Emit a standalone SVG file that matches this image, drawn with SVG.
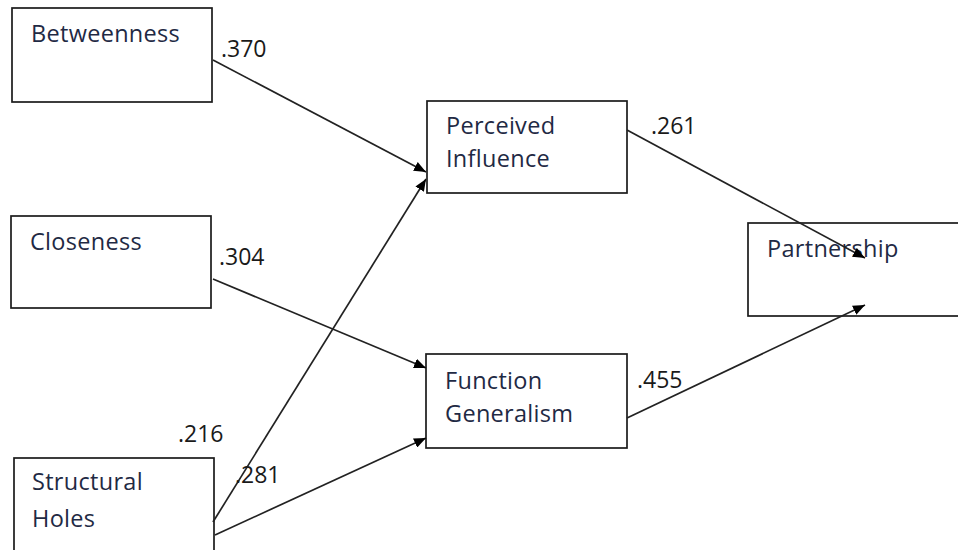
<svg xmlns="http://www.w3.org/2000/svg" width="958" height="550" viewBox="0 0 958 550">
<defs>
<marker id="ah" viewBox="0 0 12 10" refX="12" refY="5" markerWidth="12" markerHeight="10" markerUnits="userSpaceOnUse" orient="auto">
<path d="M0,0 L12,5 L0,10 Z" fill="#000"/>
</marker>
</defs>
<style>
.box{fill:#fff;stroke:#1a1a1a;stroke-width:1.7}
.lbl{font-family:"Open Sans","Liberation Sans",sans-serif;font-size:23.5px;letter-spacing:0.3px;fill:#1f2a44}
.num{font-family:"Open Sans","Liberation Sans",sans-serif;font-size:23px;fill:#1a1a1a}
.edge{stroke:#222;stroke-width:1.7;fill:none;marker-end:url(#ah)}
</style>
<rect width="958" height="550" fill="#fff"/>
<g id="betweenness"><rect class="box" x="12" y="8" width="200" height="94"/><text class="lbl" x="31" y="42">Betweenness</text></g>
<g id="closeness"><rect class="box" x="11" y="216" width="200" height="92"/><text class="lbl" x="30" y="250">Closeness</text></g>
<g id="structural-holes"><rect class="box" x="14" y="458" width="200" height="100"/><text class="lbl" x="32" y="490">Structural</text><text class="lbl" x="32" y="527">Holes</text></g>
<g id="perceived-influence"><rect class="box" x="427" y="101" width="200" height="92"/><text class="lbl" x="446" y="134">Perceived</text><text class="lbl" x="446" y="167">Influence</text></g>
<g id="function-generalism"><rect class="box" x="426" y="354" width="201" height="94"/><text class="lbl" x="445" y="389">Function</text><text class="lbl" x="445" y="422">Generalism</text></g>
<g id="partnership"><rect class="box" x="748" y="223" width="220" height="93"/><text class="lbl" x="767" y="257">Partnership</text></g>
<g id="connectors">
<line class="edge" x1="213" y1="60" x2="426" y2="172"/>
<line class="edge" x1="213" y1="522" x2="426" y2="179"/>
<line class="edge" x1="213" y1="279" x2="426" y2="368"/>
<line class="edge" x1="215" y1="535" x2="426" y2="438"/>
<line class="edge" x1="627" y1="130" x2="865" y2="258"/>
<line class="edge" x1="627" y1="418" x2="865" y2="305"/>
<text class="num" x="221" y="57">.370</text>
<text class="num" x="219" y="265">.304</text>
<text class="num" x="178" y="442">.216</text>
<text class="num" x="235" y="483">.281</text>
<text class="num" x="651" y="134">.261</text>
<text class="num" x="637" y="388">.455</text>
</g>
</svg>
